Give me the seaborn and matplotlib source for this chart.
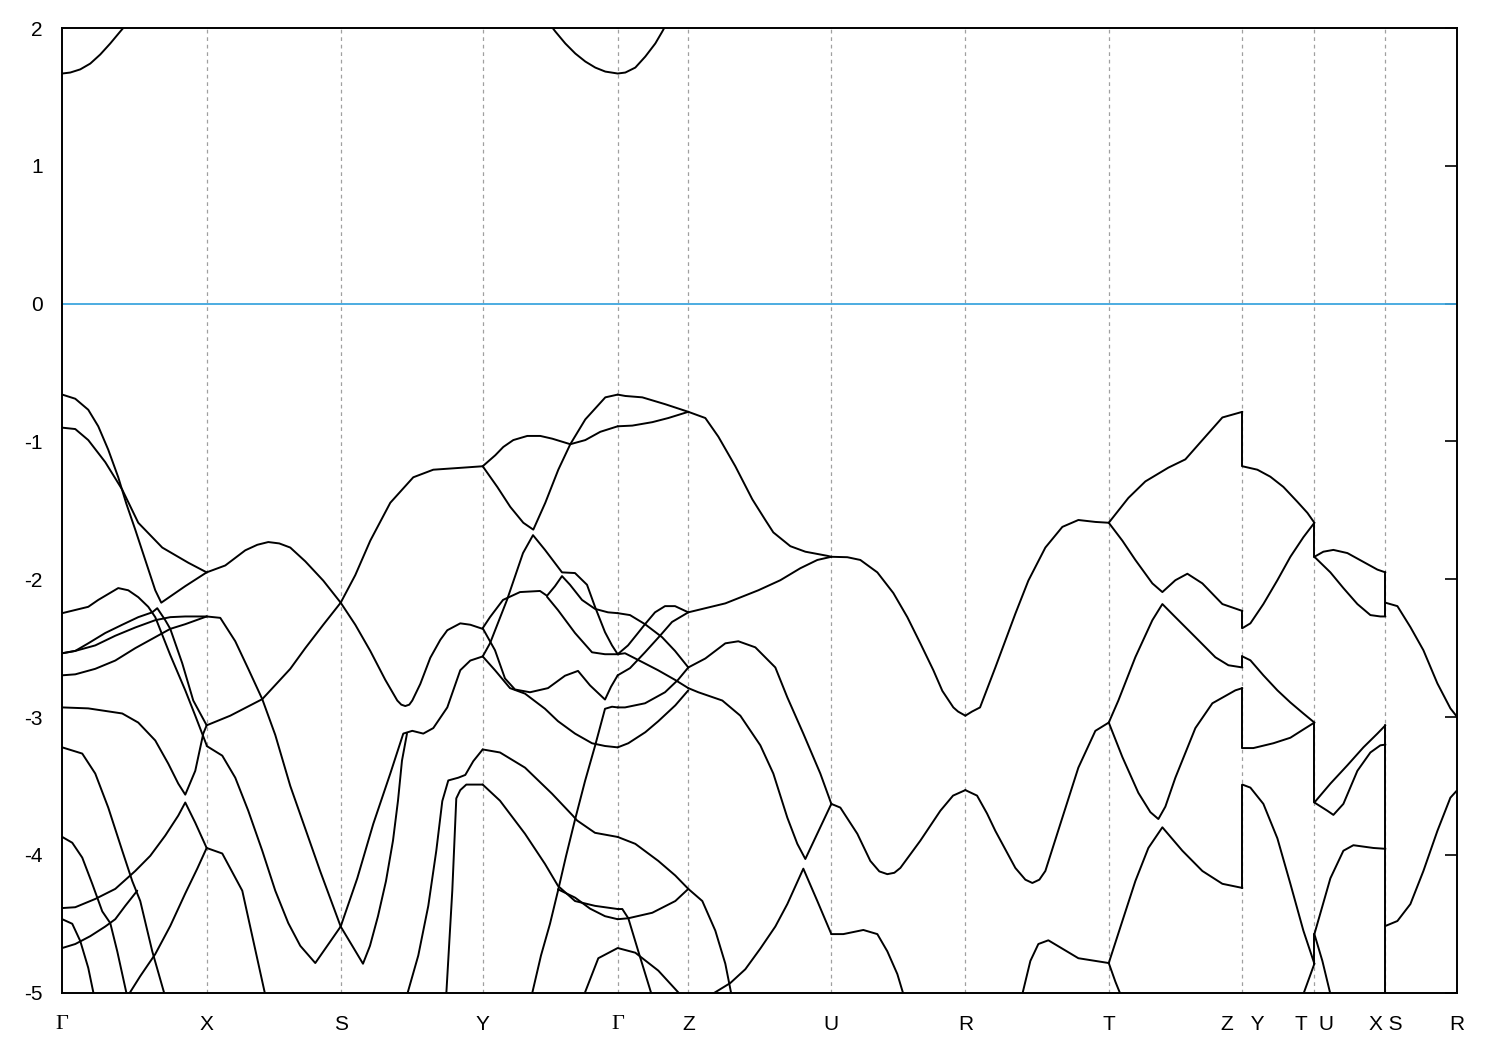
import matplotlib
matplotlib.use("Agg")
import matplotlib.pyplot as plt
import seaborn as sns
import pandas as pd

# high-symmetry points along the k-path
kpath_ticks = [0.0, 1.444, 2.784, 4.204, 5.554, 6.26, 7.69, 9.03, 10.464, 11.80, 12.52, 13.23, 13.944]
kpath_labels = ["Γ", "X", "S", "Y", "Γ", "Z", "U", "R", "T", "Z   Y", "T  U", "X S", "R"]
energy_ticks = [2, 1, 0, -1, -2, -3, -4, -5]

# conduction bands (eV), clipped at the top of the window
conduction = [
    [(0, 1.67), (0.08, 1.677), (0.18, 1.70), (0.28, 1.742), (0.38, 1.808), (0.48, 1.888), (0.58, 1.975), (0.65, 2.034)],
    [(4.83, 2.07), (4.93, 1.975), (5.03, 1.888), (5.13, 1.815), (5.23, 1.757), (5.33, 1.713), (5.43, 1.684), (5.554, 1.67),
     (5.63, 1.677), (5.73, 1.713), (5.83, 1.793), (5.93, 1.888), (6.00, 1.975), (6.06, 2.055)],
    [(5.47, 2.05), (5.554, 2.0), (5.63, 2.05)],
]

gamma_x = [
    [(0, -0.66), (0.13, -0.69), (0.26, -0.77), (0.36, -0.89), (0.46, -1.06), (0.56, -1.26), (0.64, -1.45), (0.73, -1.64),
     (0.83, -1.86), (0.93, -2.08), (0.99, -2.17), (1.23, -2.05), (1.444, -1.95)],
    [(0, -0.90), (0.13, -0.91), (0.26, -0.99), (0.43, -1.15), (0.60, -1.35), (0.76, -1.59), (1.00, -1.77), (1.26, -1.88), (1.444, -1.95)],
    [(0, -2.246), (0.26, -2.20), (0.36, -2.15), (0.56, -2.064), (0.66, -2.08), (0.76, -2.13), (0.86, -2.20), (0.93, -2.275),
     (0.96, -2.33), (1.08, -2.55), (1.23, -2.806), (1.33, -2.99), (1.444, -3.205)],
    [(0, -2.537), (0.13, -2.52), (0.33, -2.48), (0.53, -2.41), (0.73, -2.35), (0.93, -2.297), (1.08, -2.275), (1.23, -2.27), (1.444, -2.27)],
    [(0, -2.537), (0.13, -2.52), (0.26, -2.465), (0.43, -2.39), (0.60, -2.33), (0.76, -2.275), (0.90, -2.24), (0.95, -2.21),
     (1.03, -2.297), (1.08, -2.36), (1.20, -2.61), (1.31, -2.88), (1.444, -3.06)],
    [(0, -2.697), (0.13, -2.69), (0.33, -2.65), (0.53, -2.59), (0.73, -2.50), (0.93, -2.42), (1.08, -2.36), (1.23, -2.326), (1.444, -2.27)],
    [(0, -2.93), (0.26, -2.937), (0.60, -2.974), (0.76, -3.04), (0.93, -3.17), (1.06, -3.338), (1.16, -3.483), (1.23, -3.563),
     (1.33, -3.39), (1.41, -3.12), (1.444, -3.06)],
    [(0, -4.386), (0.13, -4.38), (0.33, -4.32), (0.53, -4.247), (0.73, -4.117), (0.88, -4.007), (1.03, -3.86), (1.16, -3.715),
     (1.23, -3.62), (1.33, -3.767), (1.444, -3.95)],
    [(0, -3.22), (0.20, -3.265), (0.33, -3.41), (0.46, -3.657), (0.60, -3.97), (0.70, -4.19), (0.78, -4.335), (0.90, -4.70), (1.03, -5.03)],
    [(0, -3.87), (0.10, -3.912), (0.20, -4.02), (0.30, -4.21), (0.40, -4.41), (0.48, -4.495), (0.55, -4.70), (0.65, -5.03)],
    [(0, -4.467), (0.10, -4.50), (0.18, -4.625), (0.26, -4.82), (0.32, -5.03)],
    [(0, -4.676), (0.13, -4.647), (0.28, -4.59), (0.43, -4.52), (0.53, -4.467), (0.63, -4.37), (0.75, -4.26)],
    [(0.65, -5.03), (0.78, -4.88), (0.93, -4.72), (1.08, -4.516), (1.23, -4.28), (1.35, -4.10), (1.444, -3.95)],
]

x_s = [
    [(1.444, -1.95), (1.63, -1.90), (1.83, -1.79), (1.95, -1.75), (2.06, -1.73), (2.17, -1.74), (2.28, -1.77), (2.43, -1.87),
     (2.61, -2.01), (2.784, -2.17)],
    [(1.444, -3.06), (1.68, -2.99), (2.00, -2.87), (2.28, -2.65), (2.43, -2.50), (2.61, -2.33), (2.784, -2.17)],
    [(1.444, -2.27), (1.58, -2.28), (1.73, -2.45), (1.86, -2.65), (2.00, -2.87), (2.13, -3.13), (2.28, -3.50), (2.43, -3.81),
     (2.58, -4.12), (2.784, -4.52), (2.90, -4.66), (3.007, -4.79), (3.077, -4.66), (3.157, -4.445), (3.237, -4.19),
     (3.307, -3.897), (3.357, -3.607), (3.397, -3.316), (3.447, -3.12)],
    [(1.444, -3.21), (1.60, -3.28), (1.73, -3.44), (1.86, -3.68), (2.00, -3.97), (2.13, -4.26), (2.26, -4.495), (2.38, -4.66),
     (2.53, -4.785), (2.65, -4.66), (2.784, -4.52)],
    [(1.444, -3.95), (1.60, -3.99), (1.80, -4.26), (2.04, -5.05)],
]

s_y = [
    [(2.784, -2.17), (2.93, -2.33), (3.08, -2.52), (3.23, -2.73), (3.35, -2.88), (3.39, -2.91), (3.43, -2.92), (3.47, -2.91),
     (3.50, -2.88), (3.58, -2.76), (3.68, -2.57), (3.78, -2.44), (3.85, -2.37), (3.98, -2.32), (4.08, -2.33), (4.204, -2.36)],
    [(2.784, -2.17), (2.93, -1.97), (3.08, -1.72), (3.28, -1.445), (3.51, -1.26), (3.71, -1.205), (4.01, -1.19), (4.204, -1.18)],
    [(2.784, -4.52), (2.95, -4.17), (3.11, -3.775), (3.28, -3.41), (3.41, -3.12), (3.50, -3.10), (3.61, -3.12), (3.71, -3.08),
     (3.85, -2.93), (3.98, -2.66), (4.08, -2.59), (4.204, -2.56)],
    [(3.45, -5.01), (3.56, -4.73), (3.66, -4.37), (3.74, -3.97), (3.80, -3.61), (3.86, -3.46), (3.96, -3.44), (4.03, -3.42),
     (4.11, -3.32), (4.204, -3.235)],
    [(3.84, -5.01), (3.90, -4.26), (3.94, -3.59), (3.98, -3.53), (4.04, -3.49), (4.204, -3.49)],
]

y_gamma = [
    [(4.204, -1.18), (4.33, -1.10), (4.41, -1.04), (4.51, -0.99), (4.65, -0.96), (4.78, -0.96), (4.90, -0.98), (5.08, -1.02),
     (5.23, -0.99), (5.38, -0.93), (5.554, -0.89)],
    [(4.204, -1.18), (4.35, -1.33), (4.48, -1.475), (4.61, -1.59), (4.71, -1.64), (4.83, -1.445), (4.96, -1.205), (5.08, -1.02),
     (5.23, -0.84), (5.43, -0.68), (5.554, -0.66)],
    [(4.204, -2.56), (4.277, -2.465), (4.447, -2.15), (4.607, -1.81), (4.707, -1.68), (4.827, -1.787), (4.997, -1.95),
     (5.127, -1.955), (5.247, -2.04), (5.327, -2.20), (5.427, -2.384), (5.497, -2.48), (5.554, -2.544)],
    [(4.204, -2.355), (4.277, -2.275), (4.407, -2.15), (4.577, -2.093), (4.777, -2.085), (4.847, -2.12), (4.927, -2.05),
     (4.997, -1.977), (5.077, -2.04), (5.197, -2.15), (5.327, -2.215), (5.457, -2.24), (5.554, -2.246)],
    [(4.847, -2.127), (4.957, -2.224), (5.127, -2.39), (5.297, -2.53), (5.427, -2.544), (5.554, -2.544)],
    [(4.204, -2.355), (4.327, -2.515), (4.427, -2.72), (4.527, -2.80), (4.677, -2.82), (4.857, -2.79), (5.027, -2.70),
     (5.157, -2.665), (5.277, -2.77), (5.427, -2.873), (5.487, -2.78), (5.554, -2.697)],
    [(4.204, -2.56), (4.327, -2.66), (4.477, -2.79), (4.627, -2.83), (4.827, -2.94), (4.957, -3.03), (5.127, -3.12),
     (5.297, -3.19), (5.427, -3.21), (5.554, -3.22)],
    [(4.697, -5.01), (4.787, -4.73), (4.877, -4.50), (4.957, -4.26), (5.037, -4.01), (5.127, -3.745), (5.227, -3.465),
     (5.327, -3.21), (5.427, -2.94), (5.497, -2.925), (5.554, -2.93)],
    [(4.204, -3.235), (4.377, -3.257), (4.627, -3.367), (4.897, -3.556), (5.107, -3.717), (5.147, -3.75), (5.327, -3.84), (5.554, -3.87)],
    [(4.204, -3.49), (4.377, -3.607), (4.627, -3.847), (4.827, -4.066), (4.957, -4.225), (5.127, -4.335), (5.327, -4.37), (5.554, -4.393)],
    [(4.957, -4.25), (5.127, -4.31), (5.277, -4.39), (5.427, -4.445), (5.554, -4.467)],
    [(5.21, -5.03), (5.36, -4.75), (5.554, -4.676), (5.73, -4.71), (5.96, -4.84), (6.20, -5.03)],
]

gamma_z = [
    [(5.554, -0.66), (5.63, -0.67), (5.80, -0.68), (6.03, -0.73), (6.26, -0.785)],
    [(5.554, -0.89), (5.70, -0.885), (5.90, -0.86), (6.06, -0.83), (6.26, -0.785)],
    [(5.554, -2.246), (5.677, -2.26), (5.827, -2.326), (5.997, -2.42), (6.127, -2.52), (6.26, -2.64)],
    [(5.554, -2.544), (5.657, -2.48), (5.757, -2.39), (5.827, -2.326), (5.927, -2.24), (6.027, -2.195), (6.127, -2.195), (6.26, -2.24)],
    [(5.554, -2.544), (5.627, -2.537), (5.797, -2.60), (5.957, -2.66), (6.127, -2.73), (6.26, -2.79)],
    [(5.554, -2.697), (5.677, -2.645), (5.827, -2.53), (5.977, -2.41), (6.097, -2.31), (6.26, -2.24)],
    [(5.554, -2.93), (5.627, -2.93), (5.827, -2.90), (6.027, -2.82), (6.157, -2.73), (6.26, -2.64)],
    [(5.554, -3.22), (5.66, -3.19), (5.83, -3.11), (5.96, -3.03), (6.13, -2.915), (6.26, -2.806)],
    [(5.554, -3.87), (5.73, -3.92), (5.96, -4.044), (6.13, -4.15), (6.26, -4.247), (6.40, -4.335), (6.53, -4.55), (6.63, -4.79), (6.69, -5.01)],
    [(5.554, -4.467), (5.66, -4.46), (5.90, -4.42), (6.13, -4.335), (6.26, -4.247)],
    [(5.554, -4.393), (5.60, -4.393), (5.66, -4.46), (5.76, -4.70), (5.90, -5.03)],
]

z_u = [
    [(6.26, -0.785), (6.43, -0.83), (6.56, -0.965), (6.73, -1.18), (6.90, -1.42), (7.03, -1.57), (7.11, -1.66), (7.28, -1.76),
     (7.43, -1.80), (7.65, -1.83), (7.69, -1.837)],
    [(6.26, -2.24), (6.63, -2.175), (6.96, -2.08), (7.18, -2.007), (7.38, -1.92), (7.55, -1.86), (7.69, -1.837)],
    [(6.26, -2.64), (6.43, -2.575), (6.63, -2.465), (6.76, -2.45), (6.93, -2.494), (7.13, -2.64), (7.25, -2.857), (7.41, -3.12),
     (7.58, -3.41), (7.69, -3.63)],
    [(6.26, -2.79), (6.36, -2.82), (6.60, -2.88), (6.78, -2.99), (6.98, -3.205), (7.11, -3.41), (7.25, -3.73), (7.35, -3.92),
     (7.43, -4.03), (7.56, -3.83), (7.69, -3.63)],
    [(6.50, -5.01), (6.68, -4.93), (6.83, -4.83), (6.98, -4.68), (7.13, -4.52), (7.25, -4.357), (7.41, -4.10), (7.55, -4.335), (7.69, -4.575)],
]

u_r = [
    [(7.69, -1.837), (7.85, -1.84), (7.98, -1.86), (8.15, -1.95), (8.31, -2.10), (8.45, -2.275), (8.58, -2.465), (8.71, -2.66),
     (8.80, -2.81), (8.91, -2.93), (8.957, -2.96), (9.03, -2.99)],
    [(7.69, -3.63), (7.78, -3.657), (7.95, -3.847), (8.08, -4.044), (8.17, -4.12), (8.25, -4.14), (8.32, -4.13), (8.38, -4.095),
     (8.58, -3.897), (8.78, -3.68), (8.907, -3.57), (9.03, -3.53)],
    [(7.69, -4.575), (7.81, -4.575), (8.01, -4.545), (8.15, -4.575), (8.25, -4.70), (8.35, -4.865), (8.41, -5.01)],
]

r_t = [
    [(9.03, -2.99), (9.097, -2.96), (9.177, -2.93), (9.33, -2.64), (9.53, -2.25), (9.66, -2.01), (9.83, -1.77), (10.00, -1.62),
     (10.16, -1.57), (10.33, -1.584), (10.464, -1.59)],
    [(9.03, -3.53), (9.147, -3.57), (9.247, -3.70), (9.33, -3.826), (9.53, -4.095), (9.63, -4.18), (9.70, -4.204), (9.77, -4.18),
     (9.83, -4.117), (10.00, -3.73), (10.16, -3.367), (10.33, -3.10), (10.464, -3.04)],
    [(9.60, -5.01), (9.68, -4.77), (9.76, -4.647), (9.86, -4.62), (10.16, -4.75), (10.464, -4.785)],
]

t_z = [
    [(10.464, -1.59), (10.66, -1.41), (10.83, -1.29), (11.06, -1.19), (11.23, -1.13), (11.40, -0.99), (11.60, -0.826), (11.80, -0.785)],
    [(10.464, -1.59), (10.60, -1.72), (10.73, -1.86), (10.90, -2.03), (11.00, -2.093), (11.13, -2.007), (11.25, -1.96), (11.40, -2.03),
     (11.60, -2.18), (11.80, -2.23)],
    [(10.464, -3.04), (10.56, -2.88), (10.73, -2.565), (10.90, -2.297), (11.00, -2.18), (11.13, -2.275), (11.33, -2.42), (11.53, -2.566),
     (11.66, -2.624), (11.80, -2.64)],
    [(10.464, -3.04), (10.60, -3.29), (10.76, -3.55), (10.88, -3.69), (10.96, -3.74), (11.03, -3.65), (11.13, -3.44), (11.33, -3.08),
     (11.50, -2.90), (11.73, -2.806), (11.80, -2.79)],
    [(10.464, -4.785), (10.60, -4.48), (10.73, -4.19), (10.86, -3.95), (11.00, -3.80), (11.20, -3.97), (11.40, -4.117), (11.60, -4.21), (11.80, -4.24)],
    [(10.464, -4.785), (10.53, -4.92), (10.58, -5.01)],
]

y_t = [
    [(11.80, -1.18), (11.95, -1.205), (12.08, -1.256), (12.21, -1.33), (12.35, -1.438), (12.45, -1.518), (12.52, -1.59)],
    [(11.80, -2.355), (11.88, -2.32), (12.01, -2.18), (12.15, -2.007), (12.28, -1.837), (12.41, -1.695), (12.52, -1.59)],
    [(11.80, -2.56), (11.88, -2.588), (12.01, -2.697), (12.15, -2.806), (12.28, -2.894), (12.41, -2.974), (12.52, -3.04)],
    [(11.80, -3.225), (11.91, -3.225), (12.11, -3.19), (12.28, -3.15), (12.41, -3.09), (12.52, -3.04)],
    [(11.80, -3.49), (11.88, -3.512), (12.01, -3.63), (12.15, -3.88), (12.28, -4.21), (12.41, -4.55), (12.52, -4.79)],
    [(12.41, -5.01), (12.52, -4.79)],
]

u_x = [
    [(12.52, -1.837), (12.61, -1.80), (12.71, -1.787), (12.85, -1.81), (13.01, -1.874), (13.15, -1.93), (13.23, -1.95)],
    [(12.52, -1.837), (12.68, -1.95), (12.81, -2.064), (12.95, -2.18), (13.08, -2.26), (13.18, -2.27), (13.23, -2.27)],
    [(12.52, -3.62), (12.68, -3.483), (12.85, -3.35), (13.01, -3.22), (13.15, -3.12), (13.23, -3.06)],
    [(12.52, -3.62), (12.65, -3.68), (12.71, -3.71), (12.81, -3.63), (12.95, -3.39), (13.08, -3.257), (13.18, -3.205), (13.23, -3.20)],
    [(12.52, -4.575), (12.68, -4.17), (12.81, -3.97), (12.91, -3.93), (13.11, -3.95), (13.23, -3.956)],
    [(12.52, -4.575), (12.60, -4.77), (12.68, -5.01)],
]

s_r = [
    [(13.23, -2.17), (13.35, -2.195), (13.48, -2.347), (13.61, -2.515), (13.75, -2.756), (13.88, -2.937), (13.944, -2.996)],
    [(13.23, -4.516), (13.35, -4.48), (13.48, -4.357), (13.61, -4.117), (13.75, -3.826), (13.88, -3.585), (13.944, -3.534)],
]

# band jumps at the path discontinuities Z|Y, T|U, X|S
jumps = [
    [(11.80, -0.785), (11.80, -1.18)], [(11.80, -2.23), (11.80, -2.355)], [(11.80, -2.64), (11.80, -2.56)],
    [(11.80, -2.79), (11.80, -3.225)], [(11.80, -4.24), (11.80, -3.49)],
    [(12.52, -1.59), (12.52, -1.837)], [(12.52, -3.04), (12.52, -3.62)], [(12.52, -4.79), (12.52, -4.575)],
    [(13.23, -1.95), (13.23, -2.27)], [(13.23, -3.06), (13.23, -5.1)],
]

segments = [conduction, gamma_x, x_s, s_y, y_gamma, gamma_z, z_u, u_r, r_t, t_z, y_t, u_x, s_r, jumps]
rows = []
band_id = 0
for seg in segments:
    for curve in seg:
        for k, e in curve:
            rows.append((k, e, band_id))
        band_id += 1
bands = pd.DataFrame(rows, columns=["k", "E", "band"])

sns.set_style("white")
plt.rcParams["font.family"] = ["Liberation Sans", "DejaVu Sans"]
plt.rcParams["axes.unicode_minus"] = False

fig = plt.figure(figsize=(15, 10.5), dpi=100)
ax = fig.add_axes([0.0415, 0.0546, 0.9297, 0.9187])

for k in kpath_ticks[1:-1]:
    ax.axvline(k, color="#a0a0a0", lw=0.9, ls=(0, (3, 3)), zorder=0)
ax.axhline(0, color="#3ea6de", lw=1.3, zorder=1)

sns.lineplot(data=bands, x="k", y="E", units="band", estimator=None, sort=False,
             color="black", lw=1.4, ax=ax, legend=False)

ax.set_xlim(0, kpath_ticks[-1])
ax.set_ylim(-5, 2)
ax.set_xticks(kpath_ticks)
ax.set_xticklabels(kpath_labels)
ax.set_yticks(energy_ticks)
ax.set_yticklabels([str(v) for v in energy_ticks])
ax.set_xlabel("")
ax.set_ylabel("")
ax.tick_params(axis="both", direction="in", length=9, width=1.2, labelsize=15, colors="black")
ax.tick_params(axis="y", right=True, pad=14)
ax.tick_params(axis="x", pad=16)
for lab in ax.get_xticklabels():
    if lab.get_text() == "Γ":
        lab.set_fontfamily(["Liberation Serif", "DejaVu Serif"])
        lab.set_fontsize(16)
for spine in ax.spines.values():
    spine.set_color("black")
    spine.set_linewidth(1.4)

fig.savefig("out.png", dpi=100)
